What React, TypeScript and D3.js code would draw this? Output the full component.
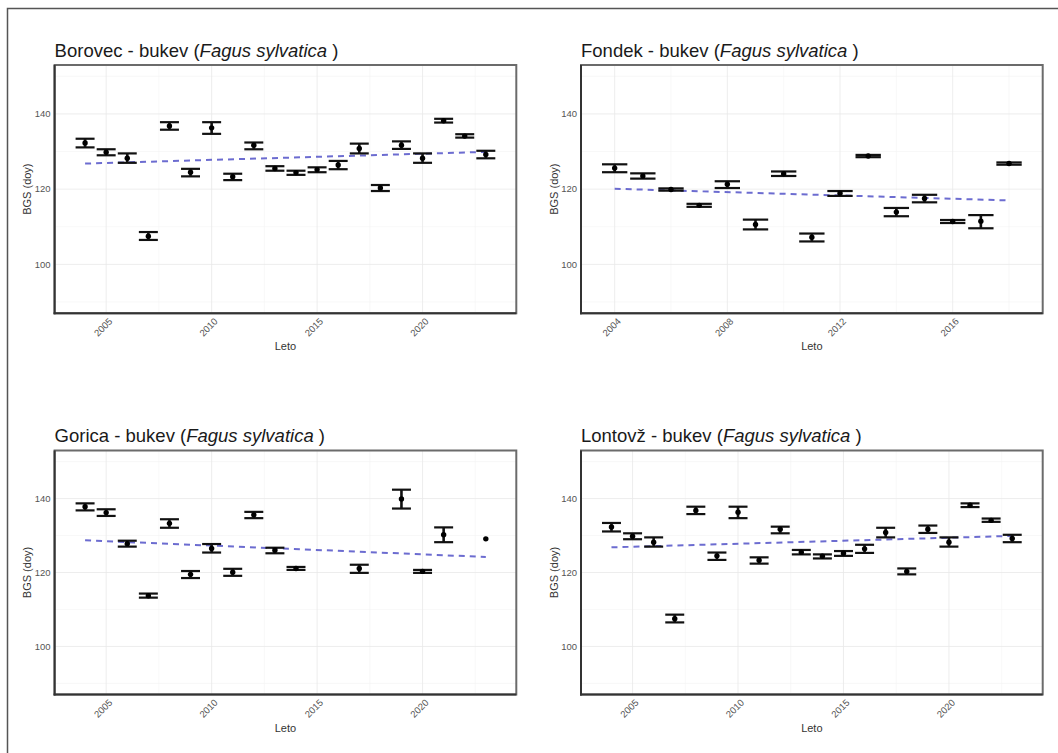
import React from "react";
import * as d3 from "d3";

// ---------- data ----------
const yearsFull = [2004, 2005, 2006, 2007, 2008, 2009, 2010, 2011, 2012, 2013, 2014, 2015, 2016, 2017, 2018, 2019, 2020, 2021, 2022, 2023];

const borovecMean = [132.3, 129.8, 128.2, 107.5, 136.8, 124.5, 136.3, 123.3, 131.7, 125.5, 124.4, 125.2, 126.4, 130.8, 120.3, 131.7, 128.2, 138.2, 134.1, 129.2];
const borovecLow = [131.1, 129.0, 127.0, 106.5, 135.8, 123.4, 134.7, 122.4, 130.6, 124.9, 123.8, 124.5, 125.3, 129.5, 119.5, 130.7, 127.0, 137.7, 133.7, 128.2];
const borovecHigh = [133.4, 130.6, 129.5, 108.6, 137.8, 125.4, 137.8, 124.1, 132.4, 126.1, 124.9, 125.8, 127.5, 132.1, 121.1, 132.7, 129.5, 138.7, 134.6, 130.2];
const borovecTrend = [126.8, 129.9];

const fondekYears = [2004, 2005, 2006, 2007, 2008, 2009, 2010, 2011, 2012, 2013, 2014, 2015, 2016, 2017, 2018];
const fondekMean = [125.6, 123.5, 119.9, 115.7, 121.3, 110.6, 124.1, 107.2, 118.9, 128.8, 113.9, 117.5, 111.4, 111.5, 126.8];
const fondekLow = [124.5, 122.8, 119.6, 115.3, 120.3, 109.3, 123.5, 106.1, 118.2, 128.5, 112.8, 116.5, 111.0, 109.6, 126.5];
const fondekHigh = [126.6, 124.2, 120.2, 116.1, 122.1, 111.9, 124.7, 108.2, 119.5, 129.1, 115.0, 118.5, 111.8, 113.1, 127.1];
const fondekTrend = [120.1, 117.0];

const goricaYears = [2004, 2005, 2006, 2007, 2008, 2009, 2010, 2011, 2012, 2013, 2014, 2017, 2019, 2020, 2021, 2023];
const goricaMean = [137.8, 136.2, 127.8, 113.7, 133.3, 119.5, 126.5, 120.1, 135.6, 126.0, 121.1, 121.1, 139.9, 120.3, 130.2, 129.1];
const goricaLow: (number | null)[] = [136.8, 135.3, 127.0, 113.2, 132.1, 118.5, 125.4, 119.1, 134.7, 125.2, 120.7, 119.9, 137.3, 119.9, 128.2, null];
const goricaHigh: (number | null)[] = [138.7, 137.1, 128.6, 114.3, 134.4, 120.4, 127.7, 121.0, 136.4, 126.7, 121.5, 122.1, 142.4, 120.7, 132.2, null];
const goricaTrend = [128.7, 124.2];

const lontovzMean = [132.3, 129.8, 128.2, 107.5, 136.8, 124.5, 136.3, 123.3, 131.7, 125.5, 124.4, 125.2, 126.4, 130.8, 120.3, 131.7, 128.2, 138.2, 134.1, 129.2];
const lontovzLow = [131.1, 129.0, 127.0, 106.5, 135.8, 123.4, 134.7, 122.4, 130.6, 124.9, 123.8, 124.5, 125.3, 129.5, 119.5, 130.7, 127.0, 137.7, 133.7, 128.2];
const lontovzHigh = [133.4, 130.6, 129.5, 108.6, 137.8, 125.4, 137.8, 124.1, 132.4, 126.1, 124.9, 125.8, 127.5, 132.1, 121.1, 132.7, 129.5, 138.7, 134.6, 130.2];
const lontovzTrend = [126.8, 129.9];

const ticks20 = [2005, 2010, 2015, 2020];
const ticksFondek = [2004, 2008, 2012, 2016];
const yTicks = [100, 120, 140];
const yLimits = [90, 150];

const siteNames = ["Borovec", "Fondek", "Gorica", "Lontovž"];
const speciesCommon = "bukev";
const speciesLatin = "Fagus sylvatica";
const xTitle = "Leto";
const yTitle = "BGS (doy)";

// ---------- layout ----------
const W = 1058;
const H = 753;
const FONT = "'Liberation Sans', Arial, Helvetica, sans-serif";

type Series = {
  name: string;
  years: number[];
  mean: number[];
  low: (number | null)[];
  high: (number | null)[];
  trend: number[];
  ticks: number[];
  rangeYears: number[];
};

const panels: { s: Series; x0: number; x1: number; y0: number; y1: number }[] = [
  { s: { name: siteNames[0], years: yearsFull, mean: borovecMean, low: borovecLow, high: borovecHigh, trend: borovecTrend, ticks: ticks20, rangeYears: yearsFull }, x0: 54.6, x1: 516.3, y0: 65, y1: 313.3 },
  { s: { name: siteNames[1], years: fondekYears, mean: fondekMean, low: fondekLow, high: fondekHigh, trend: fondekTrend, ticks: ticksFondek, rangeYears: fondekYears }, x0: 581, x1: 1042.7, y0: 65, y1: 313.3 },
  { s: { name: siteNames[2], years: goricaYears, mean: goricaMean, low: goricaLow, high: goricaHigh, trend: goricaTrend, ticks: ticks20, rangeYears: yearsFull }, x0: 54.6, x1: 516.3, y0: 450.5, y1: 694.5 },
  { s: { name: siteNames[3], years: yearsFull, mean: lontovzMean, low: lontovzLow, high: lontovzHigh, trend: lontovzTrend, ticks: ticks20, rangeYears: yearsFull }, x0: 581, x1: 1042.7, y0: 450.5, y1: 694.5 },
];

function Panel({ p }: { p: (typeof panels)[number] }) {
  const { s, x0, x1, y0, y1 } = p;
  const halfW = 0.45;
  const lo = (d3.min(s.rangeYears) as number) - halfW;
  const hi = (d3.max(s.rangeYears) as number) + halfW;
  const ex = (hi - lo) * 0.05;
  const x = d3.scaleLinear().domain([lo - ex, hi + ex]).range([x0, x1]);
  const ey = (yLimits[1] - yLimits[0]) * 0.05;
  const y = d3.scaleLinear().domain([yLimits[0] - ey, yLimits[1] + ey]).range([y1, y0]);

  const step = s.ticks[1] - s.ticks[0];
  const minorX: number[] = [];
  const [dx0, dx1] = x.domain();
  for (let v = s.ticks[0] - step / 2; v <= dx1; v += step) {
    if (v >= dx0 && !s.ticks.includes(v)) minorX.push(v);
  }
  const yStep = yTicks[1] - yTicks[0];
  const minorY: number[] = [];
  const [dy0, dy1] = y.domain();
  for (let v = yTicks[0] - yStep / 2; v <= dy1; v += yStep) {
    if (v >= dy0 && !yTicks.includes(v)) minorY.push(v);
  }

  const capW = x(halfW) - x(0);
  const first = s.years[0];
  const last = s.years[s.years.length - 1];
  const trendLine = d3.line<[number, number]>().x((d) => x(d[0])).y((d) => y(d[1]));

  return (
    <g>
      {/* title */}
      <text x={x0} y={y0 - 8.5} fontSize={18.5} fill="#1a1a1a" fontFamily={FONT}>
        {`${s.name} - ${speciesCommon} (`}
        <tspan fontStyle="italic">{speciesLatin}</tspan>
        {" )"}
      </text>
      {/* grid */}
      {minorY.map((v) => (
        <line key={"my" + v} x1={x0} x2={x1} y1={y(v)} y2={y(v)} stroke="#f3f3f3" strokeWidth={0.6} />
      ))}
      {minorX.map((v) => (
        <line key={"mx" + v} x1={x(v)} x2={x(v)} y1={y0} y2={y1} stroke="#f3f3f3" strokeWidth={0.6} />
      ))}
      {yTicks.map((v) => (
        <line key={"gy" + v} x1={x0} x2={x1} y1={y(v)} y2={y(v)} stroke="#e9e9e9" strokeWidth={0.8} />
      ))}
      {s.ticks.map((v) => (
        <line key={"gx" + v} x1={x(v)} x2={x(v)} y1={y0} y2={y1} stroke="#e9e9e9" strokeWidth={0.8} />
      ))}
      {/* trend */}
      <path
        d={trendLine([[first, s.trend[0]], [last, s.trend[1]]]) || ""}
        fill="none"
        stroke="#5252c8"
        strokeOpacity={0.85}
        strokeWidth={2}
        strokeDasharray="6 5"
      />
      {/* error bars */}
      {s.years.map((yr, i) => {
        const l = s.low[i];
        const h = s.high[i];
        const cx = x(yr);
        return (
          <g key={yr}>
            {l != null && h != null && (
              <g stroke="#111" strokeWidth={2.2}>
                <line x1={cx - capW} x2={cx + capW} y1={y(h)} y2={y(h)} />
                <line x1={cx - capW} x2={cx + capW} y1={y(l)} y2={y(l)} />
                <line x1={cx} x2={cx} y1={y(h)} y2={y(l)} strokeWidth={2.6} />
              </g>
            )}
            <circle cx={cx} cy={y(s.mean[i])} r={2.7} fill="#000" />
          </g>
        );
      })}
      {/* frame */}
      <rect x={x0} y={y0} width={x1 - x0} height={y1 - y0} fill="none" stroke="#6b6b6b" strokeWidth={2} />
      <line x1={x0} x2={x0} y1={y0} y2={y1 + 1} stroke="#333" strokeWidth={2} />
      <line x1={x0 - 1} x2={x1} y1={y1} y2={y1} stroke="#333" strokeWidth={2} />
      {/* y tick labels */}
      {yTicks.map((v) => (
        <text key={"yl" + v} x={x0 - 4} y={y(v)} dy="0.35em" textAnchor="end" fontSize={9.5} fill="#555" fontFamily={FONT}>
          {v}
        </text>
      ))}
      {/* x tick labels */}
      {s.ticks.map((v) => (
        <text
          key={"xl" + v}
          transform={`translate(${x(v) + 2},${y1 + 4}) rotate(-45)`}
          dy="0.7em"
          textAnchor="end"
          fontSize={9.5}
          fill="#555"
          fontFamily={FONT}
        >
          {v}
        </text>
      ))}
      {/* axis titles */}
      <text x={(x0 + x1) / 2} y={y1 + 37} textAnchor="middle" fontSize={11} fill="#333" fontFamily={FONT}>
        {xTitle}
      </text>
      <text
        transform={`translate(${x0 - 27},${(y0 + y1) / 2}) rotate(-90)`}
        dy="0.35em"
        textAnchor="middle"
        fontSize={11}
        fill="#333"
        fontFamily={FONT}
      >
        {yTitle}
      </text>
    </g>
  );
}

export default function App() {
  return (
    <svg
      width={W}
      height={H}
      viewBox={`0 0 ${W} ${H}`}
      style={{ position: "absolute", left: 0, top: 0, background: "#fff" }}
    >
      <rect x={0} y={0} width={W} height={H} fill="#fff" />
      <rect x={7.5} y={8.5} width={W + 10} height={H + 10} fill="none" stroke="#555" strokeWidth={1.5} />
      {panels.map((p, i) => (
        <Panel key={i} p={p} />
      ))}
    </svg>
  );
}
